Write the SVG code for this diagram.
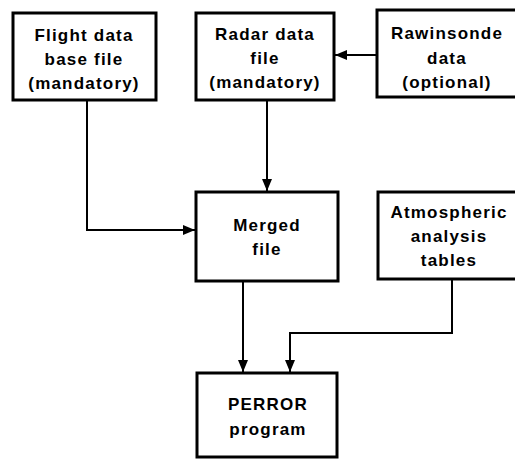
<svg xmlns="http://www.w3.org/2000/svg" width="515" height="460" viewBox="0 0 515 460">
<style>
.box{fill:#fff;stroke:#000;stroke-width:3}
.t{font-family:"Liberation Sans",Arial,sans-serif;font-weight:bold;font-size:17px;letter-spacing:1.2px;text-anchor:middle;fill:#000}
.c{fill:none;stroke:#000;stroke-width:2}
</style>
<defs>
<marker id="ah" viewBox="0 0 12 10" refX="12" refY="5" markerWidth="12" markerHeight="10" markerUnits="userSpaceOnUse" orient="auto">
<path d="M0,0 L12,5 L0,10 Z" fill="#000"/>
</marker>
</defs>
<rect width="515" height="460" fill="#fff"/>
<g id="connectors">
<path class="c" d="M377,55 H335" marker-end="url(#ah)"/>
<path class="c" d="M87,100 V230 H195" marker-end="url(#ah)"/>
<path class="c" d="M267,100 V191" marker-end="url(#ah)"/>
<path class="c" d="M243,281 V372" marker-end="url(#ah)"/>
<path class="c" d="M452,279 V333 H290 V372" marker-end="url(#ah)"/>
</g>
<g id="flight">
<rect class="box" x="13" y="13" width="143" height="87"/>
<text class="t" x="84" y="41">Flight data</text>
<text class="t" x="84" y="65">base file</text>
<text class="t" x="84" y="89">(mandatory)</text>
</g>
<g id="radar">
<rect class="box" x="196" y="13" width="138" height="87"/>
<text class="t" x="265" y="40">Radar data</text>
<text class="t" x="265" y="64">file</text>
<text class="t" x="265" y="88">(mandatory)</text>
</g>
<g id="rawinsonde">
<rect class="box" x="377" y="10" width="145" height="87"/>
<text class="t" x="447" y="39">Rawinsonde</text>
<text class="t" x="447" y="64">data</text>
<text class="t" x="447" y="88">(optional)</text>
</g>
<g id="merged">
<rect class="box" x="196" y="192" width="142" height="89"/>
<text class="t" x="267" y="231">Merged</text>
<text class="t" x="267" y="255">file</text>
</g>
<g id="atmospheric">
<rect class="box" x="378" y="192" width="145" height="87"/>
<text class="t" x="449" y="218">Atmospheric</text>
<text class="t" x="449" y="242">analysis</text>
<text class="t" x="449" y="266">tables</text>
</g>
<g id="perror">
<rect class="box" x="197" y="373" width="140" height="84"/>
<text class="t" x="268" y="410">PERROR</text>
<text class="t" x="268" y="435">program</text>
</g>
</svg>
